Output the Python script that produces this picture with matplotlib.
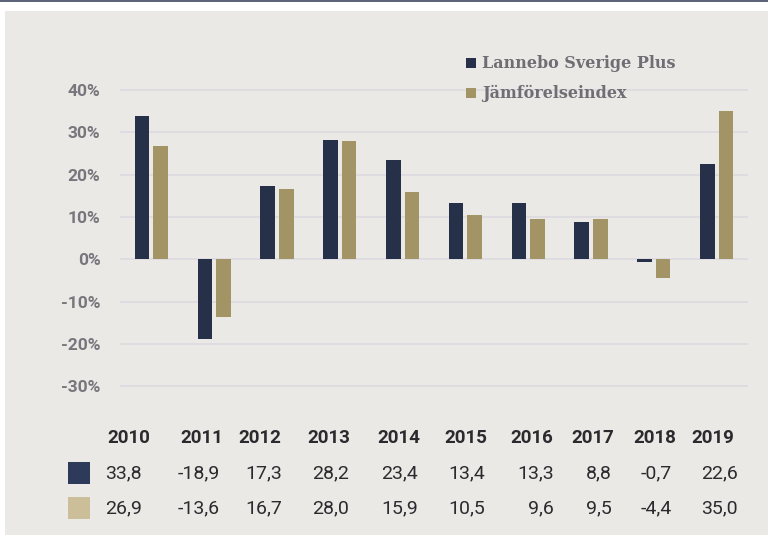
import numpy as np
import matplotlib.pyplot as plt
from matplotlib.patches import Rectangle

years = ["2010", "2011", "2012", "2013", "2014", "2015", "2016", "2017", "2018", "2019"]
fund = [33.8, -18.9, 17.3, 28.2, 23.4, 13.4, 13.3, 8.8, -0.7, 22.6]
index = [26.9, -13.6, 16.7, 28.0, 15.9, 10.5, 9.6, 9.5, -4.4, 35.0]
series_names = ["Lannebo Sverige Plus", "Jämförelseindex"]
yticks = [40, 30, 20, 10, 0, -10, -20, -30]

NAVY = "#263049"
TAN = "#a29465"
NAVY_SQ = "#2e3a5a"
TAN_SQ = "#cbbe98"
BG = "#ebe9e5"
GRID = "#dddbe0"
LABEL = "#77767c"
TEXT = "#2b2a2e"

W, H = 768, 535
fig = plt.figure(figsize=(W / 100, H / 100), dpi=100)
fig.patch.set_facecolor("white")


def fx(px):
    return px / W


def fy(py):
    return 1 - py / H


# background panel and top rule
fig.add_artist(Rectangle((fx(5), 0), 1 - fx(5), fy(11), transform=fig.transFigure,
                         facecolor=BG, edgecolor="none", zorder=0))
fig.add_artist(Rectangle((0, fy(2)), 1, 2 / H, transform=fig.transFigure,
                         facecolor="#5d6479", edgecolor="none", zorder=0))

# axes: x 120..748 px, y 69..399 px
ax = fig.add_axes([fx(120), fy(399), fx(748) - fx(120), (399 - 69) / H])
ax.set_facecolor("none")
ax.set_xlim(-0.5, 9.5)
ax.set_ylim(-33, 45)

x = np.arange(len(years))
w = 0.23
ax.bar(x - 0.148, fund, w, color=NAVY, zorder=3, linewidth=0)
ax.bar(x + 0.148, index, w, color=TAN, zorder=3, linewidth=0)

for t in yticks:
    ax.axhline(t, color=GRID, lw=1.3, zorder=1)
ax.set_yticks(yticks)
ax.set_yticklabels([f"{t}%" for t in yticks], fontfamily="Roboto",
                   fontweight="bold", fontsize=12.5, color=LABEL)
ax.tick_params(axis="y", length=0, pad=14)
ax.set_xticks([])
for s in ax.spines.values():
    s.set_visible(False)

# legend
leg_y = [63, 93]
for name, c, py in zip(series_names, [NAVY, TAN], leg_y):
    fig.add_artist(Rectangle((fx(466), fy(py + 5)), 10 / W, 10 / H,
                             transform=fig.transFigure, facecolor=c,
                             edgecolor="none"))
    fig.text(fx(482), fy(py), name, fontfamily="DejaVu Serif", fontweight="bold",
             fontsize=11.5, color="#6f6e74", va="center", ha="left")

# table below
year_right = [150, 223, 281, 350, 420, 487, 553, 614, 676, 734]
val_right = [142, 220, 282, 349, 418, 485, 554, 612, 672, 738]
row_y = [438, 473, 508]
for yr, xr in zip(years, year_right):
    fig.text(fx(xr), fy(row_y[0]), yr, fontfamily="Roboto", fontweight="bold",
             fontsize=13.5, color=TEXT, ha="right", va="center")
for vals, c, py in zip([fund, index], [NAVY_SQ, TAN_SQ], row_y[1:]):
    fig.add_artist(Rectangle((fx(68), fy(py + 11)), 22 / W, 22 / H,
                             transform=fig.transFigure, facecolor=c,
                             edgecolor="none"))
    for v, xr in zip(vals, val_right):
        fig.text(fx(xr), fy(py), f"{v:.1f}".replace(".", ","),
                 fontfamily="Roboto", fontsize=14, color=TEXT,
                 ha="right", va="center")

fig.savefig("out.png", dpi=100)
